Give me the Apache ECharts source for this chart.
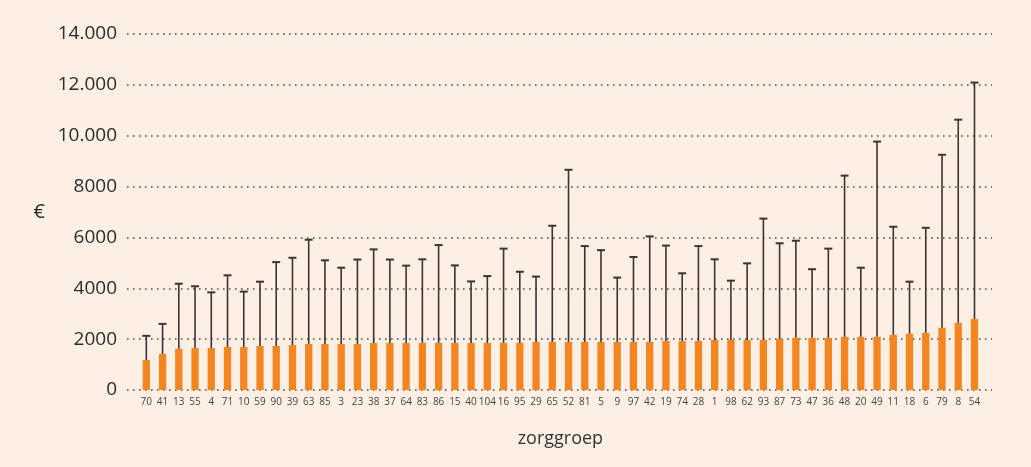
<!DOCTYPE html>
<html>
<head>
<meta charset="utf-8">
<script src="https://cdn.jsdelivr.net/npm/echarts@6/dist/echarts.min.js"></script>
<style>
html,body{margin:0;padding:0;background:#FDEFE3;}
#chart{width:1031px;height:467px;}
</style>
</head>
<body>
<div id="chart"></div>
<script>
const categories = ['70','41','13','55','4','71','10','59','90','39','63','85','3','23','38','37','64','83','86','15','40','104','16','95','29','65','52','81','5','9','97','42','19','74','28','1','98','62','93','87','73','47','36','48','20','49','11','18','6','79','8','54'];
const means = [1180,1420,1620,1650,1650,1690,1690,1730,1730,1770,1810,1810,1810,1810,1850,1850,1850,1850,1850,1850,1850,1850,1850,1850,1890,1890,1890,1890,1890,1890,1890,1890,1930,1930,1930,1970,1970,1970,1970,2010,2050,2050,2050,2090,2090,2090,2170,2210,2250,2450,2640,2790];
const upper = [2130,2600,4180,4080,3840,4510,3870,4260,5030,5200,5910,5100,4810,5130,5530,5130,4890,5140,5700,4900,4270,4480,5560,4650,4460,6460,8660,5660,5500,4420,5230,6040,5680,4590,5660,5140,4300,4980,6740,5770,5870,4750,5560,8430,4810,9770,6420,4260,6380,9250,10630,12090];
const yTickLabels = {0:'0',2000:'2000',4000:'4000',6000:'6000',8000:'8000',10000:'10.000',12000:'12.000',14000:'14.000'};

const font = '"Open Sans", "DejaVu Sans", sans-serif';
const errData = categories.map((c, i) => [i, means[i], upper[i]]);

const chart = echarts.init(document.getElementById('chart'));
chart.setOption({
  backgroundColor: '#FDEFE3',
  animation: false,
  grid: [
    {left: 127, right: 39, top: 34, bottom: 77},
    {left: 138.2, right: 48.4, top: 34, bottom: 77}
  ],
  xAxis: [
    {gridIndex: 0, type: 'category', data: categories, show: false},
    {gridIndex: 1, type: 'category', data: categories,
     axisLine: {show: false}, axisTick: {show: false},
     axisLabel: {interval: 0, fontSize: 10, color: '#444', fontFamily: font, margin: 7},
     name: 'zorggroep', nameLocation: 'middle', nameGap: 40,
     nameTextStyle: {fontSize: 18, color: '#333', fontFamily: font}}
  ],
  yAxis: [
    {gridIndex: 0, type: 'value', min: 0, max: 14000, interval: 2000,
     axisLine: {show: false}, axisTick: {show: false},
     axisLabel: {fontSize: 19, color: '#2b2b2b', fontFamily: font, margin: 10,
                 formatter: v => yTickLabels[v]},
     splitLine: {show: true, lineStyle: {color: '#4a4a4a', width: 1.6, type: [1.6, 4.4]}},
     name: '€', nameLocation: 'middle', nameRotate: 0, nameGap: 82,
     nameTextStyle: {fontSize: 20, color: '#2b2b2b', fontFamily: font}},
    {gridIndex: 1, type: 'value', min: 0, max: 14000, interval: 2000, show: false,
     splitLine: {show: false}}
  ],
  series: [
    {type: 'bar', xAxisIndex: 1, yAxisIndex: 1, data: means, barWidth: 7.3,
     itemStyle: {color: '#F48621'}, z: 2},
    {type: 'custom', xAxisIndex: 1, yAxisIndex: 1, data: errData, z: 3,
     encode: {x: 0, y: [1, 2]},
     renderItem: function (params, api) {
       const i = api.value(0);
       const lo = api.coord([i, api.value(1)]);
       const hi = api.coord([i, api.value(2)]);
       const style = {stroke: '#3b3434', lineWidth: 1.6};
       return {
         type: 'group',
         children: [
           {type: 'line', shape: {x1: lo[0], y1: lo[1], x2: hi[0], y2: hi[1]}, style: style},
           {type: 'line', shape: {x1: hi[0] - 4, y1: hi[1], x2: hi[0] + 4, y2: hi[1]},
            style: {stroke: '#3b3434', lineWidth: 2}}
         ]
       };
     }}
  ]
});
</script>
</body>
</html>
